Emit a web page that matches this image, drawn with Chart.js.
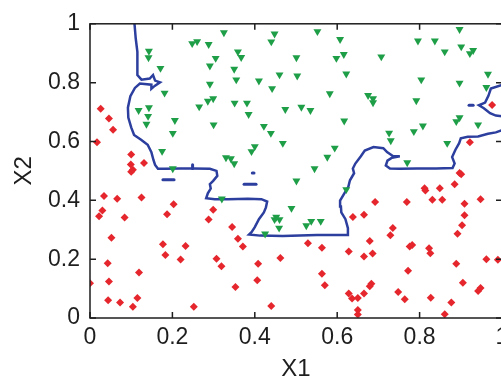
<!DOCTYPE html>
<html>
<head>
<meta charset="utf-8">
<script src="https://cdn.jsdelivr.net/npm/chart.js@4.4.1/dist/chart.umd.min.js"></script>
<style>
  html, body { margin: 0; padding: 0; background: #fff; overflow: hidden; }
  #wrap { width: 520px; height: 381px; }
</style>
</head>
<body>
<div id="wrap"><canvas id="chart" width="520" height="381"></canvas></div>
<script>
// class 2 (green, upper region)
const greenX = [0.325, 0.248, 0.260, 0.288, 0.143, 0.142, 0.305, 0.291, 0.171, 0.291, 0.181, 0.299, 0.286, 0.265, 0.118, 0.143, 0.141, 0.206, 0.137, 0.300, 0.201, 0.175, 0.330, 0.342, 0.350, 0.201, 0.320,
    0.448, 0.552, 0.440, 0.607, 0.359, 0.367, 0.501, 0.598, 0.616, 0.350, 0.355, 0.410, 0.460, 0.503, 0.622, 0.442, 0.582, 0.675, 0.351, 0.381, 0.385, 0.474, 0.513, 0.535, 0.617, 0.422, 0.439, 0.468, 0.400, 0.392, 0.594, 0.576, 0.545,
    0.897, 0.796, 0.837, 0.901, 0.930, 0.922, 0.861, 0.707, 0.966, 0.804, 0.897, 0.962, 0.687, 0.687, 0.792, 0.897, 0.889, 0.942, 0.808, 0.786, 0.726, 0.730, 0.867, 0.770,
    0.501, 0.622, 0.489, 0.452, 0.460, 0.448, 0.459, 0.537, 0.560, 0.525, 0.425];
const greenY = [0.970, 0.933, 0.940, 0.930, 0.907, 0.885, 0.883, 0.857, 0.849, 0.795, 0.765, 0.746, 0.737, 0.718, 0.706, 0.715, 0.686, 0.672, 0.659, 0.657, 0.628, 0.567, 0.545, 0.542, 0.525, 0.508, 0.405,
    0.966, 0.974, 0.939, 0.947, 0.905, 0.886, 0.885, 0.883, 0.896, 0.846, 0.810, 0.806, 0.827, 0.823, 0.830, 0.780, 0.763, 0.757, 0.731, 0.731, 0.692, 0.709, 0.717, 0.706, 0.670, 0.652, 0.628, 0.594, 0.583, 0.566, 0.578, 0.547, 0.508,
    0.981, 0.942, 0.942, 0.922, 0.910, 0.899, 0.905, 0.888, 0.829, 0.810, 0.799, 0.784, 0.746, 0.732, 0.739, 0.681, 0.668, 0.657, 0.653, 0.634, 0.629, 0.603, 0.594, 0.528,
    0.466, 0.437, 0.373, 0.343, 0.335, 0.335, 0.306, 0.329, 0.329, 0.314, 0.286];

// class 1 (red, lower region)
const redX = [0.026, 0.046, 0.056, 0.017, 0.100, 0.099, 0.131, 0.104, 0.100, 0.034,
    0.066, 0.125, 0.030, 0.022, 0.084, 0.203, 0.187, 0.299, 0.288, 0.052,
    0.177, 0.232, 0.183, 0.220, 0.043, 0.307, 0.319, 0.119, 0.000, 0.046,
    0.044, 0.073, 0.115, 0.104, 0.252, 0.345, 0.359, 0.371, 0.529, 0.563,
    0.462, 0.408, 0.406, 0.353, 0.563, 0.570, 0.440, 0.638, 0.665, 0.628,
    0.665, 0.628, 0.636, 0.650, 0.665, 0.650, 0.650, 0.897, 0.901, 0.812,
    0.814, 0.849, 0.885, 0.692, 0.769, 0.831, 0.855, 0.948, 0.909, 0.909,
    0.903, 0.892, 0.735, 0.729, 0.679, 0.776, 0.782, 0.823, 0.826, 0.686,
    0.889, 0.962, 0.990, 0.772, 0.683, 0.679, 0.905, 0.942, 0.948, 0.748,
    0.764, 0.827, 0.877, 0.861, 0.976, 0.922];
const redY = [0.711, 0.678, 0.640, 0.597, 0.556, 0.522, 0.527, 0.504, 0.497, 0.415,
    0.405, 0.410, 0.365, 0.346, 0.342, 0.387, 0.353, 0.368, 0.335, 0.273,
    0.251, 0.245, 0.214, 0.199, 0.186, 0.201, 0.176, 0.155, 0.118, 0.124,
    0.060, 0.053, 0.068, 0.038, 0.038, 0.309, 0.269, 0.243, 0.254, 0.239,
    0.204, 0.184, 0.128, 0.105, 0.150, 0.111, 0.041, 0.343, 0.351, 0.226,
    0.209, 0.083, 0.066, 0.068, 0.083, 0.027, 0.012, 0.493, 0.489, 0.441,
    0.433, 0.441, 0.455, 0.394, 0.394, 0.402, 0.402, 0.404, 0.388, 0.349,
    0.315, 0.286, 0.306, 0.281, 0.262, 0.243, 0.248, 0.237, 0.220, 0.219,
    0.184, 0.200, 0.198, 0.161, 0.116, 0.108, 0.120, 0.092, 0.102, 0.088,
    0.064, 0.069, 0.053, 0.013, 0.724, 0.597];

// decision boundary, main curve
const lineX = [0.108, 0.111, 0.115, 0.115, 0.115, 0.125, 0.145, 0.153, 0.158, 0.170, 0.157, 0.149, 0.149, 0.121, 0.109, 0.098, 0.092, 0.093, 0.100, 0.107,
    0.124, 0.140, 0.149, 0.154, 0.158, 0.165, 0.182, 0.218, 0.250, 0.291, 0.307, 0.309, 0.299, 0.291, 0.293, 0.286, 0.282, 0.303, 0.335, 0.383,
    0.416, 0.430, 0.427, 0.422, 0.410, 0.400, 0.392, 0.386, 0.413, 0.468, 0.551, 0.626, 0.626, 0.620, 0.610, 0.609, 0.607, 0.617, 0.627, 0.631,
    0.641, 0.638, 0.644, 0.657, 0.667, 0.688, 0.712, 0.721, 0.736, 0.752, 0.733, 0.722, 0.718, 0.728, 0.752, 0.794, 0.840, 0.880, 0.885, 0.879,
    0.887, 0.896, 0.900, 0.917, 0.942, 0.966, 0.985, 1.0];
const lineY = [1.0, 0.950, 0.905, 0.860, 0.826, 0.810, 0.814, 0.826, 0.807, 0.801, 0.789, 0.779, 0.793, 0.797, 0.782, 0.754, 0.715, 0.681, 0.648, 0.622,
    0.606, 0.589, 0.564, 0.537, 0.520, 0.507, 0.507, 0.508, 0.508, 0.507, 0.500, 0.483, 0.466, 0.455, 0.440, 0.424, 0.407, 0.404, 0.404, 0.405,
    0.404, 0.396, 0.376, 0.359, 0.336, 0.309, 0.292, 0.284, 0.280, 0.279, 0.282, 0.282, 0.305, 0.336, 0.359, 0.379, 0.399, 0.423, 0.446, 0.468,
    0.492, 0.508, 0.525, 0.549, 0.569, 0.581, 0.577, 0.564, 0.550, 0.550, 0.545, 0.535, 0.518, 0.508, 0.507, 0.508, 0.508, 0.510, 0.525, 0.547,
    0.572, 0.594, 0.611, 0.616, 0.617, 0.626, 0.631, 0.638];

// boundary pocket at the right edge
const pocketX = [1.0, 0.973, 0.967, 0.959, 0.944, 0.956, 0.971, 0.985, 1.0];
const pocketY = [0.792, 0.780, 0.755, 0.732, 0.723, 0.713, 0.696, 0.688, 0.686];

// small isolated boundary bits
const bitsX = [[0.177, 0.204], [0.374, 0.403], [0.394, 0.398], [0.920, 0.930], [0.249, 0.249]];
const bitsY = [[0.470, 0.470], [0.455, 0.455], [0.493, 0.493], [0.723, 0.723], [0.508, 0.521]];

const xTicks = [0, 0.2, 0.4, 0.6, 0.8, 1];
const yTicks = [0, 0.2, 0.4, 0.6, 0.8, 1];

const RED = '#e5262d';
const GREEN = '#1f9e48';
const BLUE = '#2c3e9e';
const INK = '#1e1e1e';

function zip(xs, ys) {
    return xs.map((x, i) => ({ x: x, y: ys[i] }));
}

// MATLAB-style box with inward ticks
const framePlugin = {
    id: 'frame',
    afterDraw(chart) {
        const { ctx, chartArea: a, scales } = chart;
        const len = 6;
        ctx.save();
        ctx.strokeStyle = INK;
        ctx.lineWidth = 1.5;
        ctx.strokeRect(a.left, a.top, a.right - a.left, a.bottom - a.top);
        ctx.beginPath();
        xTicks.forEach(v => {
            const px = scales.x.getPixelForValue(v);
            ctx.moveTo(px, a.bottom); ctx.lineTo(px, a.bottom - len);
            ctx.moveTo(px, a.top); ctx.lineTo(px, a.top + len);
        });
        yTicks.forEach(v => {
            const py = scales.y.getPixelForValue(v);
            ctx.moveTo(a.left, py); ctx.lineTo(a.left + len, py);
            ctx.moveTo(a.right, py); ctx.lineTo(a.right - len, py);
        });
        ctx.stroke();
        ctx.restore();
    }
};

const datasets = [
    {
        label: 'class 2',
        data: zip(greenX, greenY),
        pointStyle: 'triangle',
        rotation: 180,
        pointRadius: 4.6,
        backgroundColor: GREEN,
        borderColor: GREEN,
        borderWidth: 0
    },
    {
        label: 'class 1',
        data: zip(redX, redY),
        pointStyle: 'rectRot',
        pointRadius: 4,
        backgroundColor: RED,
        borderColor: RED,
        borderWidth: 0
    },
    {
        label: 'boundary',
        data: zip(lineX, lineY),
        showLine: true,
        pointRadius: 0,
        borderColor: BLUE,
        borderWidth: 2.5,
        tension: 0
    },
    {
        label: 'boundary pocket',
        data: zip(pocketX, pocketY),
        showLine: true,
        pointRadius: 0,
        borderColor: BLUE,
        borderWidth: 2.5,
        tension: 0
    }
];

bitsX.forEach((xs, i) => {
    datasets.push({
        label: 'bit ' + i,
        data: zip(xs, bitsY[i]),
        showLine: true,
        pointRadius: 0,
        borderColor: BLUE,
        borderWidth: 3,
        borderCapStyle: 'round',
        tension: 0
    });
});

const fontFamily = "'Liberation Sans', Arial, Helvetica, sans-serif";

new Chart(document.getElementById('chart'), {
    type: 'scatter',
    data: { datasets: datasets },
    options: {
        responsive: false,
        animation: false,
        layout: { padding: { left: 0, top: 20, right: 18, bottom: 0 } },
        plugins: {
            legend: { display: false },
            tooltip: { enabled: false }
        },
        scales: {
            x: {
                type: 'linear',
                min: 0,
                max: 1,
                afterBuildTicks: s => { s.ticks = xTicks.map(v => ({ value: v })); },
                afterFit: s => { s.height = 63; },
                grid: { display: false, drawTicks: false },
                border: { display: false },
                ticks: {
                    padding: 6,
                    color: INK,
                    font: { family: fontFamily, size: 23 },
                    maxRotation: 0,
                    callback: v => String(v)
                },
                title: {
                    display: true,
                    text: 'X1',
                    color: INK,
                    font: { family: fontFamily, size: 24, lineHeight: 1 },
                    padding: { top: 0, bottom: 0 }
                }
            },
            y: {
                type: 'linear',
                min: 0,
                max: 1,
                afterBuildTicks: s => { s.ticks = yTicks.map(v => ({ value: v })); },
                afterFit: s => { s.width = 90; },
                grid: { display: false, drawTicks: false },
                border: { display: false },
                ticks: {
                    padding: 10,
                    color: INK,
                    font: { family: fontFamily, size: 23 },
                    callback: v => String(v)
                },
                title: {
                    display: true,
                    text: 'X2',
                    color: INK,
                    font: { family: fontFamily, size: 24, lineHeight: 1 },
                    padding: { top: 12, bottom: 0 }
                }
            }
        }
    },
    plugins: [framePlugin]
});
</script>
</body>
</html>
